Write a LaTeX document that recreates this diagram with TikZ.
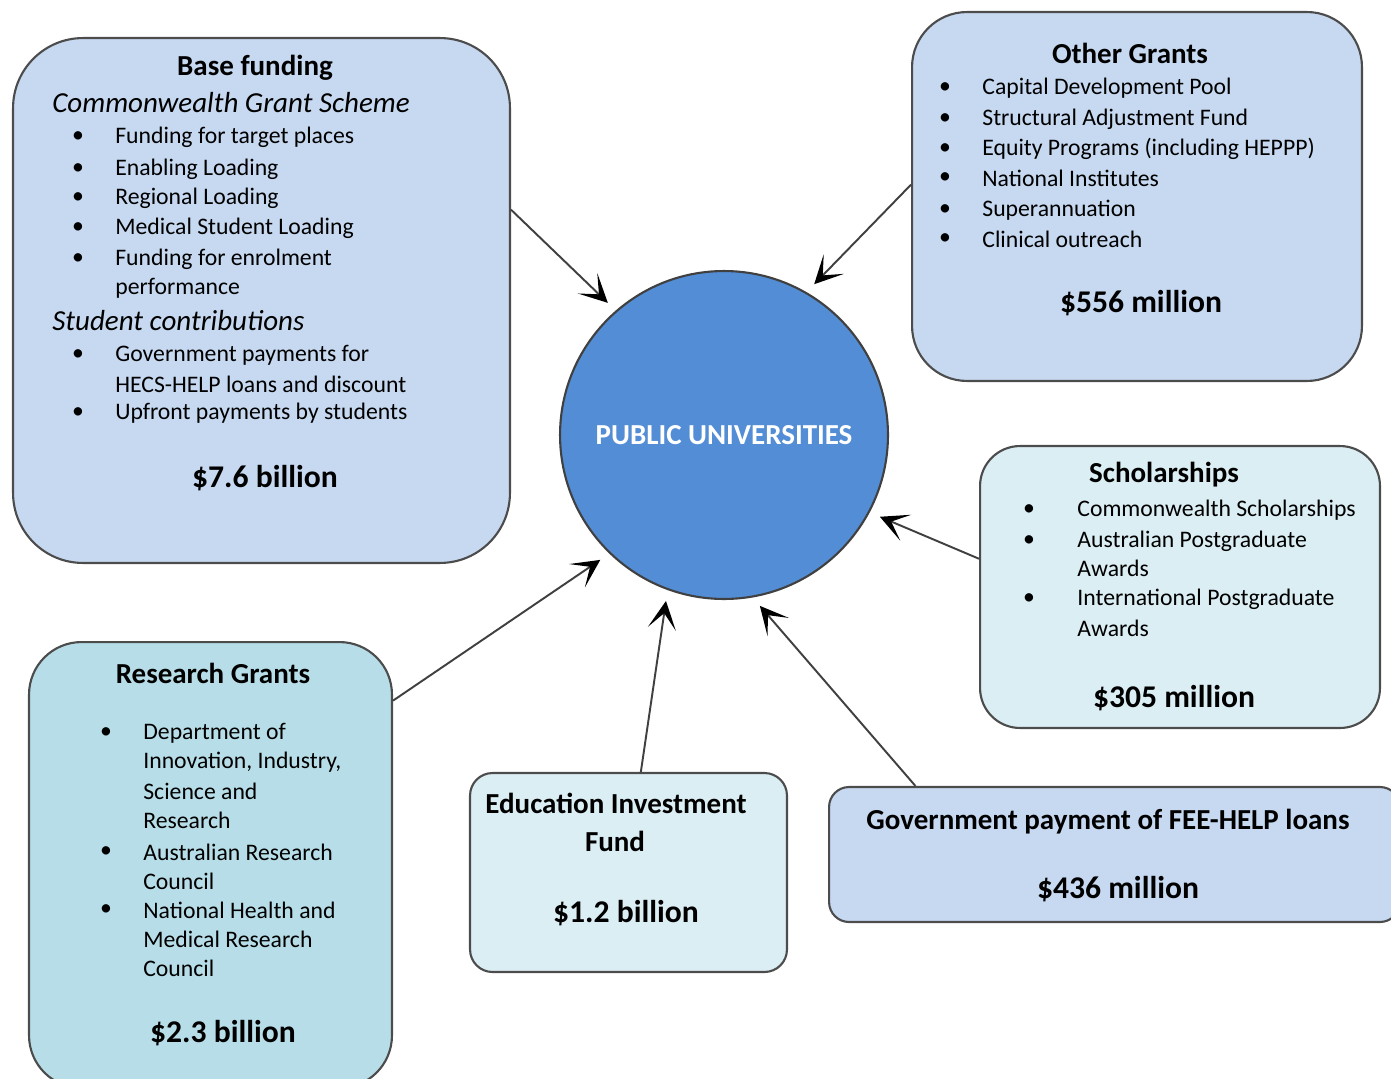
\documentclass[tikz,border=0pt]{standalone}
\usepackage{fontspec}
\setmainfont{Carlito}
\usetikzlibrary{arrows.meta}
\definecolor{baseblue}{RGB}{198,217,241}
\definecolor{paleblue}{RGB}{219,238,244}
\definecolor{tealblue}{RGB}{183,222,232}
\definecolor{unicircle}{RGB}{83,141,213}

\begin{document}
\begin{tikzpicture}[x=0.02cm,y=-0.02cm,
	fundbox/.style={draw=black!70,line width=1.2pt},
	boxtitle/.style={font=\fontsize{16.5}{20}\selectfont\bfseries,inner sep=0pt},
	subhead/.style={font=\fontsize{16.5}{20}\selectfont\itshape,anchor=west,inner sep=0pt},
	listitem/.style={font=\fontsize{13.5}{16}\selectfont,anchor=west,inner sep=0pt},
	bulletmark/.style={font=\fontsize{13.5}{16}\selectfont,inner sep=0pt},
	money/.style={font=\fontsize{18}{22}\selectfont\bfseries,inner sep=0pt},
	feed/.style={draw=black!75,line width=1.1pt,shorten >=0.22cm,-{Stealth[length=16pt,width=16pt,inset=9pt,black]}}]
	\useasboundingbox (0,0) rectangle (1391,1078);

	\node[fundbox,fill=baseblue,rounded corners=1.4cm,minimum width=9.94cm,minimum height=10.5cm]	(base)		at (261.5,300.5)	{};
	\node[fundbox,fill=baseblue,rounded corners=1.1cm,minimum width=9cm,minimum height=7.38cm]		(other)		at (1137,196.5)		{};
	\node[fundbox,fill=paleblue,rounded corners=0.8cm,minimum width=8cm,minimum height=5.64cm]		(schol)		at (1180,587)		{};
	\node[fundbox,fill=tealblue,rounded corners=1.05cm,minimum width=7.26cm,minimum height=8.92cm]	(research)	at (210.5,865)		{};
	\node[fundbox,fill=paleblue,rounded corners=0.45cm,minimum width=6.34cm,minimum height=3.98cm]	(eif)		at (628.5,872.5)	{};
	\node[fundbox,fill=baseblue,rounded corners=0.4cm,minimum width=11.42cm,minimum height=2.7cm]	(feehelp)	at (1114.5,854.5)	{};
	\node[circle,draw=black!75,line width=1.2pt,fill=unicircle,minimum size=6.56cm,text=white,
		font=\fontsize{16.5}{19}\selectfont\bfseries]												(pu)		at (724,435)		{PUBLIC UNIVERSITIES};

	\draw[feed] (base.20) -- (pu.131);
	\draw[feed] (other.177) -- (pu.60);
	\draw[feed] (schol.172) -- (pu.-28);
	\draw[feed] (research.42) -- (pu.-134);
	\draw[feed] (eif.83) -- (pu.-110);
	\draw[feed] (feehelp.161) -- (pu.-80);

	% base funding
	\node[boxtitle]	(basetitle)	at (255,68)	{Base funding};
	\node[subhead]	(basecgs)	at (52,103)	{Commonwealth Grant Scheme};
	\node[subhead]	(basestu)	at (52,321)	{Student contributions};
	\foreach \y in {137,169,198,228,259,355,413}
		\node[bulletmark] (basedot\y) at (78,\y) {\textbullet};
	\foreach \y/\t in {137/Funding for target places,169/Enabling Loading,198/Regional Loading,228/Medical Student Loading,259/Funding for enrolment,288/performance,355/Government payments for,384/HECS-HELP loans and discount,413/Upfront payments by students}
		\node[listitem] (baseitem\y) at (115,\y) {\t};
	\node[money]	(basesum)	at (265,478)	{\$7.6 billion};

	% other grants
	\node[boxtitle]	(othertitle)	at (1130,53)	{Other Grants};
	\foreach \y in {88,119,149,178,210,239}
		\node[bulletmark] (otherdot\y) at (945,\y) {\textbullet};
	\foreach \y/\t in {88/Capital Development Pool,119/Structural Adjustment Fund,149/Equity Programs (including HEPPP),178/National Institutes,210/Superannuation,239/Clinical outreach}
		\node[listitem] (otheritem\y) at (982,\y) {\t};
	\node[money]	(othersum)	at (1141,303)	{\$556 million};

	% scholarships
	\node[boxtitle]	(scholtitle)	at (1164,475)	{Scholarships};
	\foreach \y in {510,541,599}
		\node[bulletmark] (scholdot\y) at (1029,\y) {\textbullet};
	\foreach \y/\t in {510/Commonwealth Scholarships,541/Australian Postgraduate,568/Awards,599/International Postgraduate,628/Awards}
		\node[listitem] (scholitem\y) at (1077,\y) {\t};
	\node[money]	(scholsum)	at (1174,698)	{\$305 million};

	% research grants
	\node[boxtitle]	(restitle)	at (213,673)	{Research Grants};
	\foreach \y in {733,852,910}
		\node[bulletmark] (resdot\y) at (106,\y) {\textbullet};
	\foreach \y/\t in {733/Department of,762/{Innovation, Industry,},791/Science and,820/Research,852/Australian Research,881/Council,910/National Health and,939/Medical Research,968/Council}
		\node[listitem] (resitem\y) at (143,\y) {\t};
	\node[money]	(ressum)	at (223,1033)	{\$2.3 billion};

	% education investment fund
	\node[boxtitle]	(eiftitle)	at (616,803)	{Education Investment};
	\node[boxtitle]	(eiffund)	at (615,841)	{Fund};
	\node[money]	(eifsum)	at (626,913)	{\$1.2 billion};

	% fee-help
	\node[boxtitle]	(feetitle)	at (1108,822)	{Government payment of FEE-HELP loans};
	\node[money]	(feesum)	at (1118,889)	{\$436 million};
\end{tikzpicture}
\end{document}
